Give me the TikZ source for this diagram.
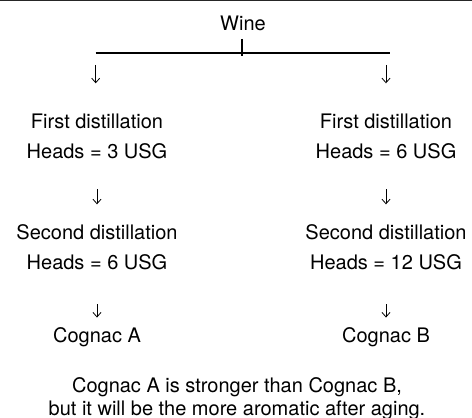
\documentclass[tikz,border=0pt]{standalone}
\usepackage{fontspec}
\setmainfont{TeX Gyre Heros}
\usetikzlibrary{arrows.meta, positioning}

\begin{document}
\begin{tikzpicture}[
                x=1pt, y=1pt,
                font=\fontsize{20}{30}\selectfont,
                node distance=66pt and 0pt,
                stage/.style={align=center, inner sep=0pt},
                note/.style={stage, font=\fontsize{20}{23}\selectfont},
                bar/.style={line width=2.2pt},
                arrow/.style={line width=0.8pt, -{Straight Barb[length=4.5pt, width=8pt]}}
            ]
            \useasboundingbox (0,0) rectangle (472,418);
            \draw [line width=1.5pt, black!85] (0,417.3) -- (472,417.3);

            \node (wine) [stage] at (243,394.7) {Wine};
            \coordinate (split) at (242,365.3);
            \coordinate (left) at (95.7,365.3);
            \coordinate (right) at (390,365.3);

            \node (first1) [stage, anchor=north] at (97,304.5) {First distillation\\Heads = 3 USG};
            \node (first2) [stage, anchor=north] at (386,304.5) {First distillation\\Heads = 6 USG};
            \node (second1) [stage, below=66pt of first1] {Second distillation\\Heads = 6 USG};
            \node (second2) [stage, below=66pt of first2] {Second distillation\\Heads = 12 USG};
            \node (cognac1) [stage, below=57pt of second1] {Cognac A};
            \node (cognac2) [stage, below=57pt of second2] {Cognac B};
            \node (result) [note, anchor=north] at (237,41) {Cognac A is stronger than Cognac B,\\but it will be the more aromatic after aging.};

            \draw [bar] (left) -- (right);
            \draw [bar, shorten <=8pt, shorten >=-3.5pt] (wine.south -| split) -- (split);
            \draw [arrow, shorten <=12.3pt, shorten >=30.2pt] (left) -- (left |- first1.north);
            \draw [arrow, shorten <=12.3pt, shorten >=30.2pt] (first2.north |- right) -- (first2.north);
            \draw [arrow, shorten <=30.5pt, shorten >=20.5pt] (first1) -- (second1);
            \draw [arrow, shorten <=30.5pt, shorten >=20.5pt] (first2) -- (second2);
            \draw [arrow, shorten <=33.7pt, shorten >=10pt] (second1) -- (cognac1);
            \draw [arrow, shorten <=33.7pt, shorten >=10pt] (second2) -- (cognac2);
            \end{tikzpicture}
\end{document}
